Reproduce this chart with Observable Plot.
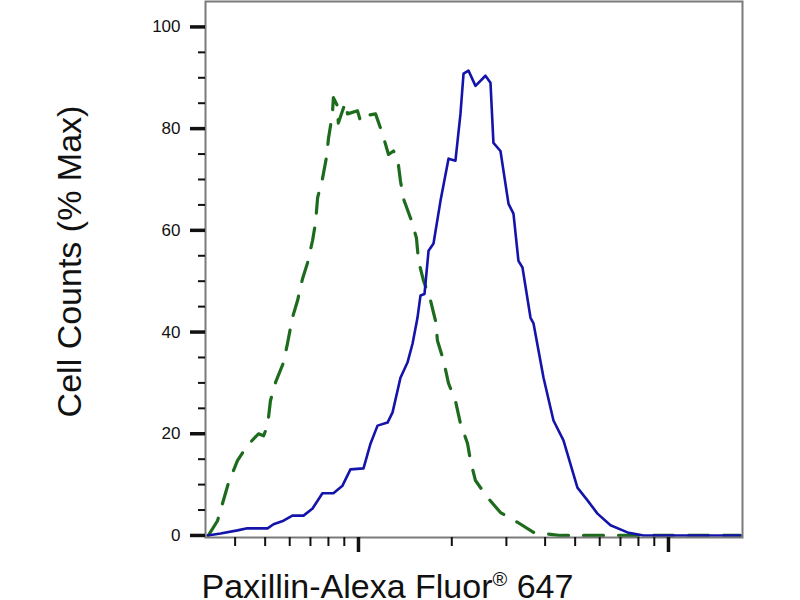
<!DOCTYPE html>
<html>
<head>
<meta charset="utf-8">
<script src="https://cdn.jsdelivr.net/npm/d3@7"></script>
<script src="https://cdn.jsdelivr.net/npm/@observablehq/plot@0.6"></script>
<style>
  html, body { margin: 0; padding: 0; background: #fff; }
  #chart { width: 800px; height: 600px; }
</style>
</head>
<body>
<div id="chart"></div>
<script>
// Stained sample (solid blue): fluorescence intensity and % max
const stainedX = [326, 359, 407, 438, 509, 532, 573, 612, 665, 711, 765, 830, 888, 942, 1038, 1094, 1152, 1241, 1288, 1366, 1439, 1494, 1550, 1585, 1633, 1683, 1746, 1839, 1952, 2055, 2133, 2182, 2264, 2385, 2568, 2666, 2725, 2871, 3048, 3162, 3281, 3381, 3589, 3670, 3953, 4256, 4584, 5085, 5480, 5902, 6501, 7375, 8304, 17060];
const stainedY = [0, 0.4, 1.0, 1.4, 1.4, 2.2, 2.9, 3.9, 3.9, 5.3, 8.3, 8.3, 9.8, 13.0, 13.2, 18.1, 21.6, 22.2, 24.2, 31.0, 34.0, 37.7, 42.8, 47.2, 47.5, 56.0, 57.4, 65.8, 74.1, 73.7, 82.9, 90.8, 91.4, 88.4, 90.4, 89.0, 77.2, 75.6, 65.2, 63.3, 54.0, 52.7, 42.8, 41.7, 31.0, 22.6, 18.7, 9.4, 6.9, 4.3, 2.0, 0.6, 0, 0];

// Control sample (dashed green)
const controlX = [328, 351, 381, 407, 438, 476, 494, 509, 520, 540, 573, 590, 612, 636, 660, 685, 711, 727, 738, 765, 788, 800, 824, 830, 855, 861, 895, 908, 922, 993, 1015, 1038, 1135, 1195, 1250, 1297, 1336, 1366, 1397, 1482, 1538, 1562, 1621, 1708, 1772, 1798, 1881, 1952, 2055, 2133, 2248, 2298, 2385, 2606, 2871, 3258, 3670, 4487, 17060];
const controlY = [0, 2.9, 10.4, 14.7, 17.7, 20.0, 19.6, 21.6, 26.5, 30.1, 34.0, 37.7, 42.8, 46.2, 50.5, 53.6, 58.0, 61.5, 66.4, 70.1, 74.3, 78.0, 82.9, 86.1, 84.5, 81.1, 84.1, 85.1, 82.9, 83.5, 81.5, 82.5, 82.9, 79.0, 74.9, 75.6, 74.3, 69.7, 66.2, 61.9, 58.5, 54.0, 50.1, 46.2, 42.2, 38.3, 34.4, 29.9, 26.5, 22.0, 18.1, 14.7, 10.8, 7.5, 4.5, 2.6, 0.6, 0, 0];

const yMajorTicks = [0, 20, 40, 60, 80, 100];
const yMinorTicks = [5, 10, 15, 25, 30, 35, 45, 50, 55, 65, 70, 75, 85, 90, 95];
const xMajorTicks = [1000, 10000];
const xMinorTicks = [400, 500, 600, 700, 800, 900, 2000, 3000, 4000, 5000, 6000, 7000, 8000, 9000];

const xLabel = "Paxillin-Alexa Fluor® 647";
const yLabel = "Cell Counts (% Max)";

const stained = stainedX.map((x, i) => ({x, y: stainedY[i]}));
const control = controlX.map((x, i) => ({x, y: controlY[i]}));

const tickFont = "'Liberation Sans', Arial, sans-serif";
const labelFont = "'Liberation Sans', Arial, sans-serif";

const chart = Plot.plot({
  width: 800,
  height: 600,
  marginLeft: 205,
  marginRight: 58,
  marginTop: 1,
  marginBottom: 63,
  style: {background: "#fff", fontFamily: labelFont},
  x: {type: "log", domain: [321, 17330], label: null},
  y: {domain: [-0.4, 105], label: null},
  marks: [
    Plot.line(control, {x: "x", y: "y", stroke: "#1d6b1d", strokeWidth: 3.2, strokeDasharray: "20,15", clip: true}),
    Plot.line(stained, {x: "x", y: "y", stroke: "#1414aa", strokeWidth: 2.6, clip: true}),
    Plot.frame({stroke: "#7a7a7a", strokeWidth: 2}),
    Plot.axisY(yMinorTicks, {tickSize: 7, tickFormat: () => "", strokeWidth: 2, stroke: "#111", label: null}),
    Plot.axisY(yMajorTicks, {tickSize: 15, tickPadding: 10, strokeWidth: 3.5, stroke: "#111", fontSize: 17, fontFamily: tickFont, fill: "#111", label: null}),
    Plot.axisX(xMinorTicks, {tickSize: 9, tickFormat: () => "", strokeWidth: 2, stroke: "#111", label: null}),
    Plot.axisX(xMajorTicks, {tickSize: 15, tickFormat: () => "", strokeWidth: 3.5, stroke: "#111", label: null}),
    Plot.text([yLabel], {frameAnchor: "left", textAnchor: "middle", rotate: -90, dx: -135, dy: -8, lineAnchor: "middle", fontSize: 34, fontFamily: labelFont, fill: "#111"}),
    Plot.text([xLabel], {frameAnchor: "bottom-left", textAnchor: "start", lineAnchor: "bottom", dx: -4, dy: 60, fontSize: 34, fontFamily: labelFont, fill: "#111"})
  ]
});

document.getElementById("chart").appendChild(chart);

// superscript ® in the x label
d3.select(chart).selectAll("text").each(function() {
  const t = d3.select(this);
  if (t.text() === xLabel) {
    const parts = xLabel.split("®");
    t.text(null);
    t.append("tspan").text(parts[0]);
    t.append("tspan").attr("font-size", 20).attr("dy", -12).text("®");
    t.append("tspan").attr("dy", 12).text(parts[1]);
  }
});
</script>
</body>
</html>
